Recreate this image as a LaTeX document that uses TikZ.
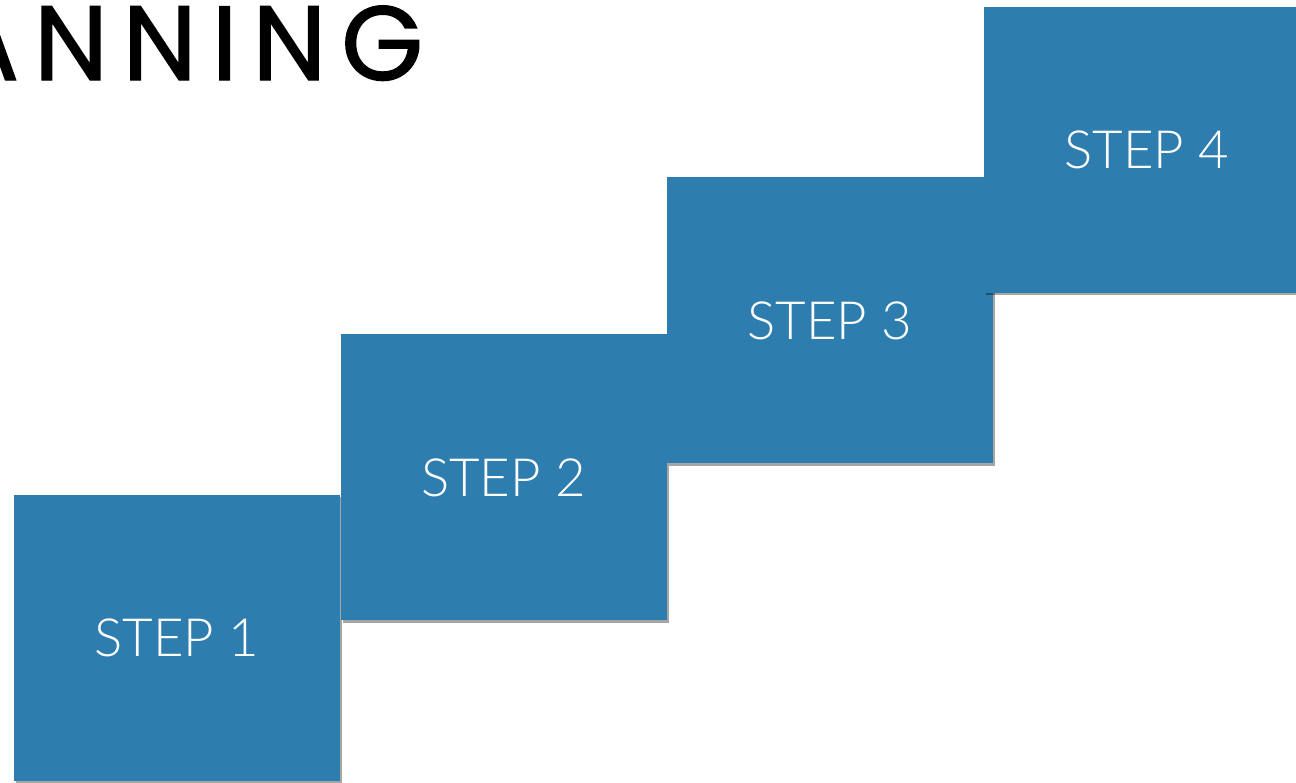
\documentclass[tikz,border=0pt]{standalone}
\usepackage{fontspec}
\setmainfont{Liberation Sans}
\newfontfamily\titlefont{Poppins}[LetterSpace=14,FakeBold=1.3]
\newfontfamily\stepfont{Lato}[UprightFont=* Light]
\usepackage{xcolor}
\usetikzlibrary{math}
\usetikzlibrary{shadows}
\definecolor{stepblue}{RGB}{46,125,175}

\tikzset{
stepbox/.style={fill=stepblue, minimum width=3.26cm, minimum height=2.86cm, inner sep=0,
  text=white, font=\stepfont\fontsize{15}{15}\selectfont,
  drop shadow={shadow xshift=0.6pt, shadow yshift=-0.6pt, opacity=0.35, fill=black}},
}

\begin{document}
\begin{tikzpicture}
\tikzmath{
\W=12.96;
\H=7.83;
}
\useasboundingbox (0,0) rectangle (\W,\H);
\clip (0,0) rectangle (\W,\H);

%title, cut at the left edge
\node[anchor=north east, inner sep=0, font=\titlefont\fontsize{30}{30}\selectfont] (title) at (4.24,\H-0.05) {ANNING};

\node[stepbox] (step1) at (1.77,1.45) {STEP 1};
\node[stepbox] (step2) at (5.035,3.055) {STEP 2};
\node[stepbox] (step3) at (8.30,4.625) {STEP 3};
\node[stepbox] (step4) at (11.47,6.33) {STEP 4};
\end{tikzpicture}
\end{document}
